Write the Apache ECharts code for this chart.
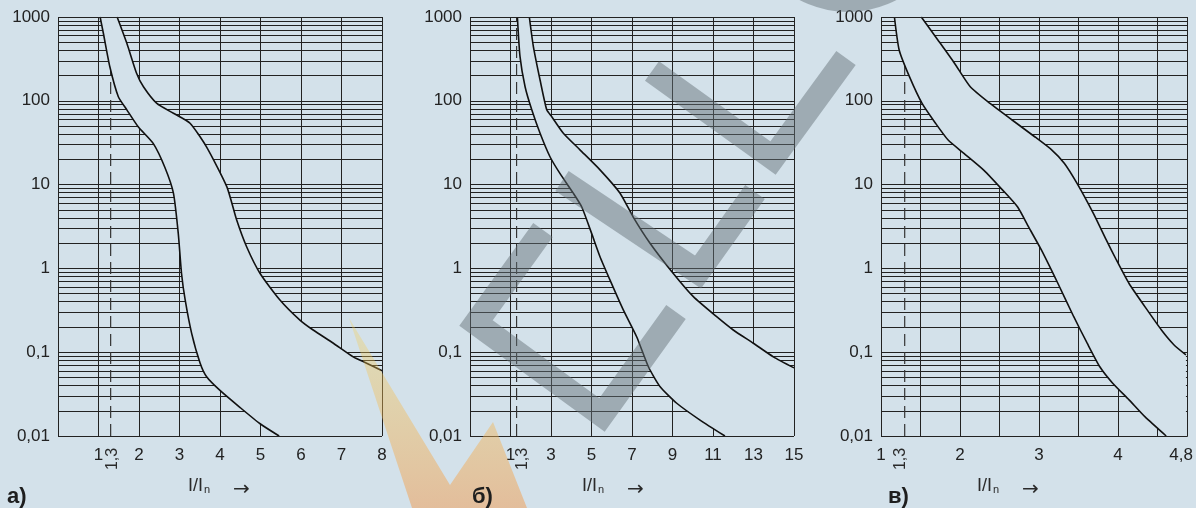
<!DOCTYPE html>
<html><head><meta charset="utf-8">
<script src="https://cdn.jsdelivr.net/npm/echarts@6/dist/echarts.min.js"></script>
<style>html,body{margin:0;padding:0;background:#d3e1ea;}#c{width:1196px;height:508px;}</style>
</head><body><div id="c"></div>
<script>
// ---- data ----
const yTicks = [0.01, 0.1, 1, 10, 100, 1000];
const xTicksA = [1, 2, 3, 4, 5, 6, 7, 8];
const xTicksB = [1, 3, 5, 7, 9, 11, 13, 15];
const xTicksC = [1, 2, 3, 4, 4.8];
const markerX = 1.3;
const panelNames = ['а)', 'б)', 'в)'];
const axisTitle = 'I/I';
const axisTitleSub = 'n';

const aLower = [[1.04,1000],[1.12,640],[1.28,255],[1.49,112],[1.70,78],[1.98,49],[2.35,31],[2.64,16],[2.85,7.9],[2.97,2.6],[3.05,0.87],[3.14,0.42],[3.30,0.168],[3.51,0.074],[3.67,0.051],[4.0,0.035],[4.49,0.022],[4.99,0.014],[5.46,0.01]];
const aUpper = [[1.46,1000],[1.70,485],[1.94,213],[2.11,147],[2.44,93],[2.85,71],[3.26,54],[3.67,28],[4.17,9.4],[4.41,3.8],[4.66,1.8],[4.99,0.87],[5.48,0.42],[5.98,0.24],[6.30,0.184],[6.80,0.128],[7.29,0.088],[7.62,0.074],[8.0,0.060]];
const bLower = [[1.34,1000],[1.47,336],[1.72,147],[2.05,78],[2.46,41],[2.95,21.5],[3.44,13.6],[4.10,7.9],[4.52,5.4],[5.01,2.6],[5.42,1.38],[5.91,0.73],[6.57,0.32],[7.23,0.153],[7.81,0.067],[8.38,0.039],[9.21,0.0246],[10.36,0.0155],[11.59,0.01]];
const bUpper = [[1.93,1000],[2.13,443],[2.46,177],[2.79,78],[3.03,65],[3.61,41],[4.43,26],[5.42,15],[6.41,7.9],[7.06,4.1],[7.89,2.0],[9.04,0.87],[10.03,0.46],[11.18,0.265],[12.0,0.184],[12.99,0.128],[13.98,0.088],[15.0,0.065]];
const cLower = [[1.17,1000],[1.23,404],[1.36,194],[1.52,93],[1.69,54],[1.85,34],[2.05,23.6],[2.30,14.9],[2.54,8.6],[2.73,5.4],[2.87,3.1],[3.03,1.66],[3.24,0.66],[3.44,0.265],[3.61,0.128],[3.77,0.067],[3.93,0.043],[4.14,0.027],[4.34,0.017],[4.61,0.01]];
const cUpper = [[1.51,1000],[1.72,532],[1.93,281],[2.13,147],[2.38,93],[2.66,59],[2.95,37],[3.16,26],[3.32,18],[3.48,10.4],[3.69,4.5],[3.85,2.2],[3.98,1.26],[4.14,0.66],[4.34,0.35],[4.55,0.184],[4.71,0.122],[4.86,0.093]];

// ---- layout ----
const BG = '#d3e1ea';
const LINE = '#222';
const FONT = 'Liberation Sans, Arial, sans-serif';
const panels = [
  {lower: aLower, upper: aUpper, min: 0, max: 8, interval: 1, ticks: xTicksA, grid: {left: 58, top: 17, width: 324, height: 419}},
  {lower: bLower, upper: bUpper, min: -1, max: 15, interval: 2, ticks: xTicksB, grid: {left: 470, top: 17, width: 324, height: 419}},
  {lower: cLower, upper: cUpper, min: 1, max: 4.88, interval: 0.5, ticks: xTicksC, grid: {left: 881, top: 17, width: 316, height: 419}}
];
const hGrid = [];
for (let e = -2; e <= 2; e++) for (let m = 1; m <= 9; m++) hGrid.push(+(m * Math.pow(10, e)).toPrecision(6));
hGrid.push(1000);

const fmt = v => String(+(+v).toPrecision(6)).replace('.', ',');

const grid = [], xAxis = [], yAxis = [], series = [];
panels.forEach((p, i) => {
  grid.push(Object.assign({containLabel: false}, p.grid));
  xAxis.push({
    type: 'value', gridIndex: i, min: p.min, max: p.max, interval: p.interval,
    axisLine: {show: false}, axisTick: {show: false},
    splitLine: {show: true, lineStyle: {color: LINE, width: 1}},
    axisLabel: {customValues: p.ticks, formatter: v => (p.ticks.indexOf(+(+v).toPrecision(6)) >= 0 ? fmt(v) : ''),
      fontSize: 17, color: '#222', margin: 11, fontFamily: FONT, hideOverlap: false}
  });
  yAxis.push({
    type: 'log', logBase: 10, gridIndex: i, min: 0.01, max: 1000,
    axisLine: {show: false}, axisTick: {show: false}, splitLine: {show: false},
    axisLabel: {customValues: yTicks, formatter: fmt, fontSize: 17, color: '#222', margin: 8, fontFamily: FONT}
  });
  // dashed marker line + horizontal log grid
  series.push({
    type: 'line', xAxisIndex: i, yAxisIndex: i, data: [[markerX, 0.01], [markerX, 1000]],
    symbol: 'none', silent: true, z: 2, animation: false,
    lineStyle: {color: '#333', width: 1.2, type: [12, 6]},
    markLine: {silent: true, z: 1, animation: false, symbol: ['none', 'none'], label: {show: false},
      lineStyle: {color: LINE, width: 1, type: 'solid'}, emphasis: {disabled: true},
      data: hGrid.map(v => ({yAxis: v}))}
  });
  // band fill (between curves), covering the grid
  const poly = p.lower.concat([[p.upper[p.upper.length - 1][0], p.lower[p.lower.length - 1][1]]], p.upper.slice().reverse());
  series.push({
    type: 'custom', xAxisIndex: i, yAxisIndex: i, z: 3, silent: true, animation: false,
    data: [p.lower[0]],
    renderItem: (params, api) => ({
      type: 'polygon', shape: {points: poly.map(pt => api.coord(pt))},
      style: {fill: BG, stroke: null}
    }),
    markLine: {silent: true, z: 5, animation: false, symbol: ['none', 'none'], label: {show: false},
      lineStyle: {color: LINE, width: 1, type: 'solid'}, emphasis: {disabled: true},
      data: [{yAxis: 0.01}, {yAxis: 1000}, {xAxis: p.min}, {xAxis: p.max}]}
  });
  [p.lower, p.upper].forEach(curve => series.push({
    type: 'line', xAxisIndex: i, yAxisIndex: i, data: curve, symbol: 'none', smooth: 0.2,
    silent: true, z: 4, animation: false, lineStyle: {color: '#111', width: 1.6}
  }));
});

// ---- annotations & decorations ----
const txt = (x, y, text, font, extra) => Object.assign({type: 'text', x, y, z: 50,
  style: Object.assign({text, font, fill: '#2a2a2a', align: 'left', verticalAlign: 'middle'}, extra || {})});
const graphic = [];
[188, 582, 977].forEach((x, i) => {
  graphic.push(txt(x, 486, axisTitle, '18px ' + FONT));
  graphic.push(txt(x + 16, 490, axisTitleSub, '11px ' + FONT));
  graphic.push(txt(x + 45, 490, '→', '20px DejaVu Sans'));
});
[[7, panelNames[0]], [472, panelNames[1]], [888, panelNames[2]]].forEach(([x, t]) => graphic.push(txt(x, 497, t, 'bold 22px ' + FONT, {fill: '#1e1e1e'})));
[113, 523, 901].forEach(x => graphic.push(Object.assign(txt(x, 459, '1,3', '16px ' + FONT, {align: 'center'}), {rotation: Math.PI / 2})));
// watermark shapes
const wm = 'rgba(100,112,120,0.48)';
[[[652,71],[773,158],[846,58]], [[562,181],[698,272],[755,192]], [[543,230],[476,323],[602,415],[676,312]]].forEach(pts =>
  graphic.push({type: 'polyline', z: 60, silent: true, shape: {points: pts}, style: {stroke: wm, lineWidth: 24, fill: null, lineJoin: 'miter', lineCap: 'butt'}}));
graphic.push({type: 'circle', z: 60, silent: true, shape: {cx: 848, cy: -92, r: 104}, style: {fill: wm}});
graphic.push({type: 'polygon', z: 40, silent: true, shape: {points: [[349,318],[450,485],[493,422],[527,508],[412,508]]},
  style: {fill: new echarts.graphic.LinearGradient(0, 0, 0, 1, [{offset: 0, color: 'rgba(245,210,80,0.3)'}, {offset: 1, color: 'rgba(240,160,90,0.55)'}])}});

const chart = echarts.init(document.getElementById('c'), null, {renderer: 'canvas'});
chart.setOption({backgroundColor: BG, animation: false, grid, xAxis, yAxis, series, graphic});
</script></body></html>
